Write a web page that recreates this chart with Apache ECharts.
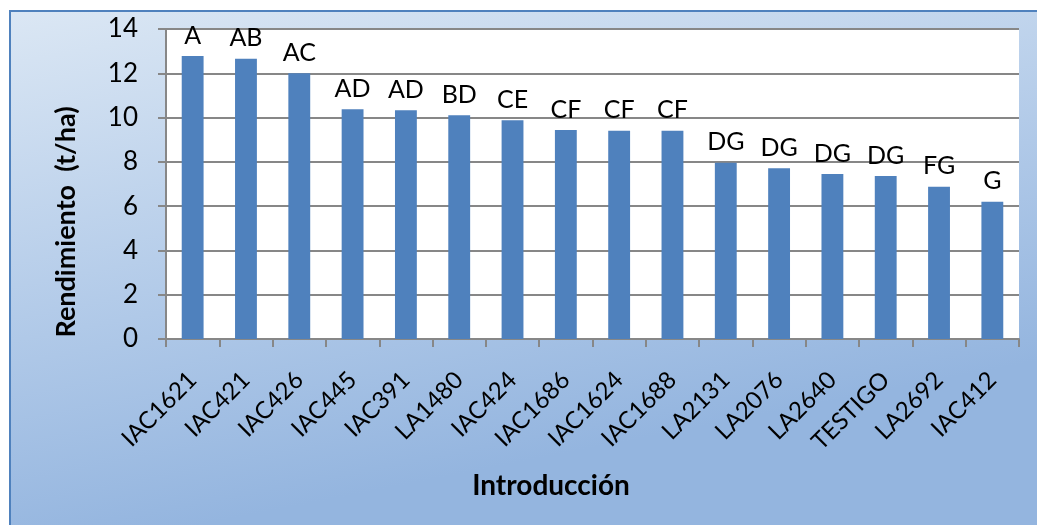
<!DOCTYPE html>
<html>
<head>
<meta charset="utf-8">
<script src="https://cdn.jsdelivr.net/npm/echarts@6/dist/echarts.min.js"></script>
<style>
  html, body { margin: 0; padding: 0; background: #fff; }
  #chart { width: 1037px; height: 525px; }
</style>
</head>
<body>
<div id="chart"></div>
<script>
  // categorias (introducciones) y rendimiento en t/ha
  var categories = ['IAC1621', 'IAC421', 'IAC426', 'IAC445', 'IAC391', 'LA1480', 'IAC424', 'IAC1686',
    'IAC1624', 'IAC1688', 'LA2131', 'LA2076', 'LA2640', 'TESTIGO', 'LA2692', 'IAC412']
  var rendimiento = [12.78, 12.66, 12.0, 10.38, 10.33, 10.1, 9.88, 9.44,
    9.4, 9.4, 7.96, 7.71, 7.45, 7.36, 6.88, 6.2]
  // letras de significancia sobre cada barra
  var grupos = ['A', 'AB', 'AC', 'AD', 'AD', 'BD', 'CE', 'CF', 'CF', 'CF', 'DG', 'DG', 'DG', 'DG', 'FG', 'G']
  var yTicks = [0, 14, 2] // min, max, intervalo

  var font = 'Lato, "Open Sans", sans-serif'
  var gridColor = '#878787'

  var chart = echarts.init(document.getElementById('chart'))
  chart.setOption({
    backgroundColor: '#fff',
    graphic: [
      {
        type: 'rect',
        z: -10,
        shape: { x: 10, y: 11, width: 1040, height: 530 },
        style: {
          fill: new echarts.graphic.LinearGradient(0, 0, 0.1, 1, [
            { offset: 0, color: '#dbe7f4' },
            { offset: 0.6, color: '#b0c9e8' },
            { offset: 1, color: '#94b5df' }
          ]),
          stroke: '#4f81bd',
          lineWidth: 2
        }
      },
      {
        type: 'text',
        x: 551,
        y: 486,
        style: {
          text: 'Introducción',
          font: 'bold 28px ' + font,
          fill: '#000',
          align: 'center',
          verticalAlign: 'middle'
        }
      },
      {
        type: 'text',
        x: 66,
        y: 222,
        rotation: Math.PI / 2,
        style: {
          text: 'Rendimiento  (t/ha)',
          font: 'bold 27px ' + font,
          fill: '#000',
          align: 'center',
          verticalAlign: 'middle'
        }
      }
    ],
    grid: {
      left: 166,
      top: 29,
      right: 18,
      bottom: 186,
      show: true,
      backgroundColor: '#fff',
      borderWidth: 0
    },
    xAxis: {
      type: 'category',
      data: categories,
      axisLine: { lineStyle: { color: gridColor, width: 2 } },
      axisTick: { show: true, length: 8, alignWithLabel: false, lineStyle: { color: gridColor, width: 2 } },
      axisLabel: {
        interval: 0,
        rotate: 45,
        margin: 37,
        color: '#000',
        fontSize: 24,
        fontFamily: font
      }
    },
    yAxis: {
      type: 'value',
      min: yTicks[0],
      max: yTicks[1],
      interval: yTicks[2],
      axisLine: { show: true, lineStyle: { color: gridColor, width: 2 } },
      axisTick: { show: true, length: 8, lineStyle: { color: gridColor, width: 2 } },
      splitLine: { lineStyle: { color: gridColor, width: 2 } },
      axisLabel: {
        margin: 28,
        color: '#000',
        fontSize: 26,
        fontFamily: font
      }
    },
    series: [{
      type: 'bar',
      data: rendimiento,
      barWidth: '41%',
      itemStyle: { color: '#4f81bd' },
      label: {
        show: true,
        position: 'top',
        distance: 8,
        color: '#000',
        fontSize: 25,
        fontFamily: font,
        formatter: function (p) {
          return grupos[p.dataIndex]
        }
      }
    }]
  })
</script>
</body>
</html>
